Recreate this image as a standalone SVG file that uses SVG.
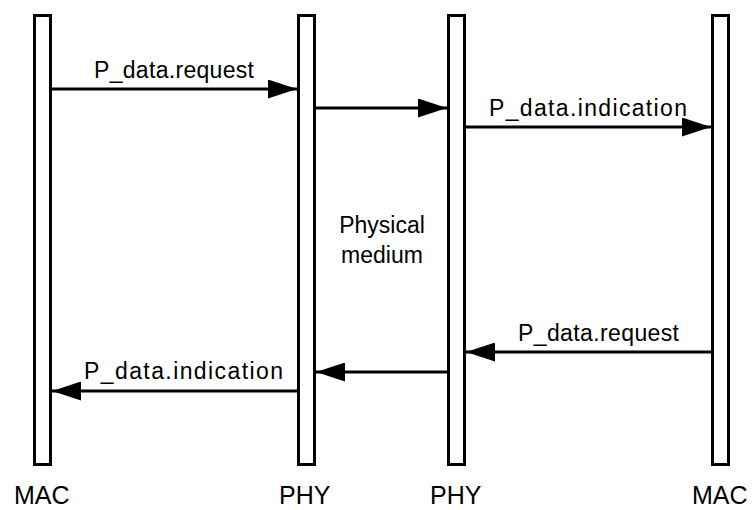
<svg xmlns="http://www.w3.org/2000/svg" width="752" height="510" viewBox="0 0 752 510">
<style>
.bar{fill:#fff;stroke:#000;stroke-width:3}
.msg{stroke:#000;stroke-width:3;fill:none;marker-end:url(#ah)}
.t{font-family:"Liberation Sans",Arial,sans-serif;font-size:23px;fill:#000}
.b{font-family:"Liberation Sans",Arial,sans-serif;font-size:25px;fill:#000}
</style>
<defs>
<marker id="ah" markerUnits="userSpaceOnUse" markerWidth="29" markerHeight="19" refX="29" refY="9.5" orient="auto">
<path d="M0,0 L29,9.5 L0,19 z" fill="#000"/>
</marker>
</defs>
<rect width="752" height="510" fill="#fff"/>
<g id="mac1"><rect class="bar" x="34.5" y="15.5" width="16" height="449"/><text class="b" x="14" y="504">MAC</text></g>
<g id="phy1"><rect class="bar" x="298.5" y="15.5" width="16" height="449"/><text class="b" x="279" y="504">PHY</text></g>
<g id="phy2"><rect class="bar" x="448.5" y="15.5" width="16" height="449"/><text class="b" x="430" y="504">PHY</text></g>
<g id="mac2"><rect class="bar" x="712.5" y="15.5" width="16" height="449"/><text class="b" x="692" y="504">MAC</text></g>
<g id="medium"><text class="t" x="382" y="233" text-anchor="middle">Physical</text><text class="t" x="382" y="263" text-anchor="middle">medium</text></g>
<g id="connectors">
<line class="msg" x1="52" y1="89" x2="297" y2="89"/>
<line class="msg" x1="316" y1="108" x2="447" y2="108"/>
<line class="msg" x1="466" y1="127" x2="711" y2="127"/>
<line class="msg" x1="711" y1="352" x2="466" y2="352"/>
<line class="msg" x1="447" y1="372" x2="316" y2="372"/>
<line class="msg" x1="297" y1="391" x2="52" y2="391"/>
<text class="t" x="94" y="78" textLength="160" lengthAdjust="spacing">P_data.request</text>
<text class="t" x="489" y="116" textLength="198" lengthAdjust="spacing">P_data.indication</text>
<text class="t" x="518" y="341" textLength="161" lengthAdjust="spacing">P_data.request</text>
<text class="t" x="84" y="379" textLength="199" lengthAdjust="spacing">P_data.indication</text>
</g>
</svg>
